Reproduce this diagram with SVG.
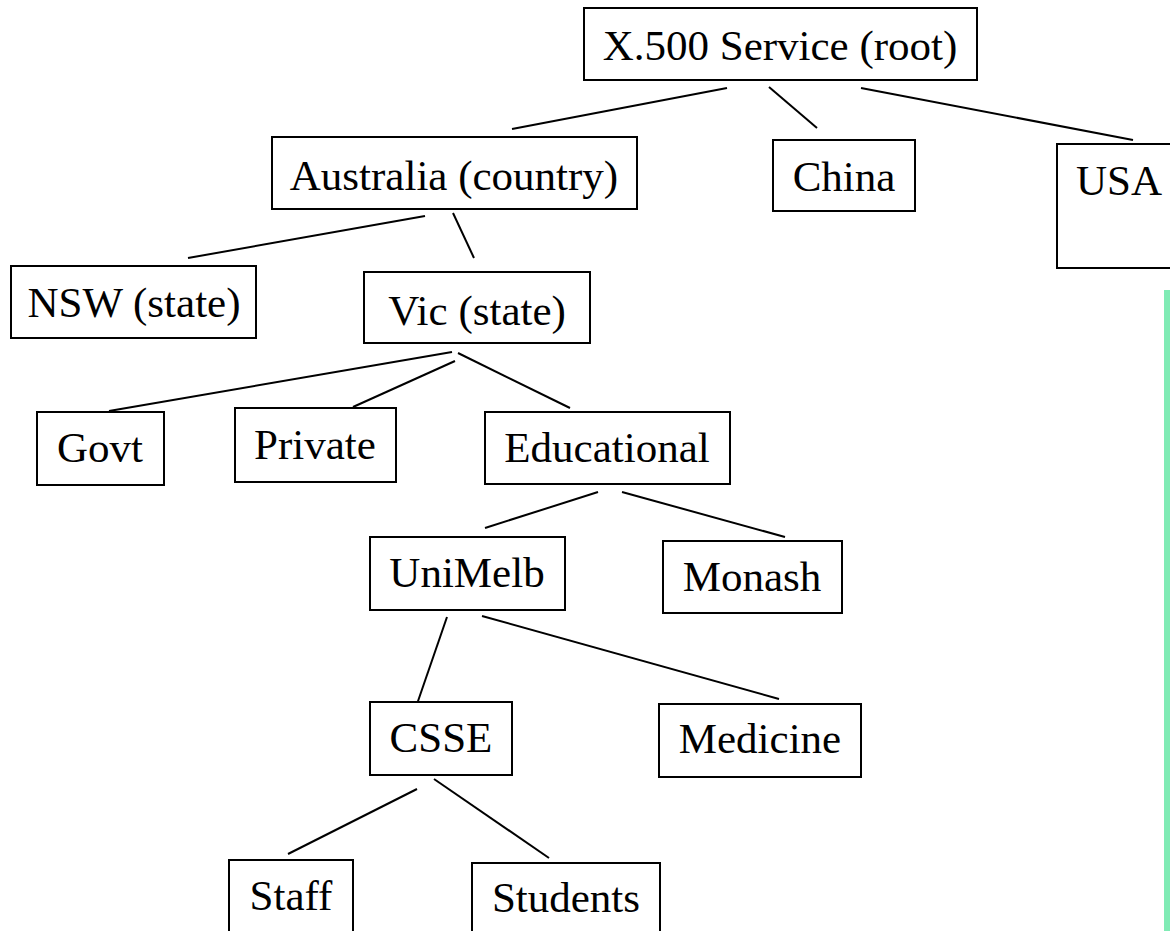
<svg xmlns="http://www.w3.org/2000/svg" width="1170" height="931" viewBox="0 0 1170 931">
<style>
.box{fill:#ffffff;stroke:#000000;stroke-width:2}
.lbl{font-family:"Liberation Serif","Times New Roman",serif;font-size:43px;fill:#000000;text-anchor:middle}
.conn line{stroke:#000000;stroke-width:2}
</style>
<rect x="0" y="0" width="1170" height="931" fill="#ffffff"/>
<rect x="1164" y="290" width="6" height="641" fill="#80EBB5"/>
<g class="conn">
<line x1="727" y1="88" x2="512" y2="129"/>
<line x1="769" y1="87" x2="817" y2="128"/>
<line x1="861" y1="88" x2="1133" y2="140"/>
<line x1="425" y1="216" x2="188" y2="258"/>
<line x1="453" y1="213" x2="474" y2="258"/>
<line x1="452" y1="352" x2="109" y2="411"/>
<line x1="455" y1="361" x2="353" y2="407"/>
<line x1="458" y1="353" x2="570" y2="408"/>
<line x1="598" y1="492" x2="485" y2="528"/>
<line x1="622" y1="492" x2="785" y2="537"/>
<line x1="447" y1="617" x2="417" y2="704"/>
<line x1="482" y1="616" x2="779" y2="699"/>
<line x1="417" y1="789" x2="288" y2="854"/>
<line x1="434" y1="779" x2="549" y2="858"/>
</g>
<g id="root"><rect class="box" x="584" y="8" width="393" height="72"/><text class="lbl" x="780" y="60">X.500 Service (root)</text></g>
<g id="australia"><rect class="box" x="272" y="137" width="365" height="72"/><text class="lbl" x="454" y="190">Australia (country)</text></g>
<g id="china"><rect class="box" x="773" y="140" width="142" height="71"/><text class="lbl" x="844" y="191">China</text></g>
<g id="usa"><rect class="box" x="1057" y="144" width="130" height="124"/><text class="lbl" x="1119" y="195">USA</text></g>
<g id="nsw"><rect class="box" x="11" y="266" width="245" height="72"/><text class="lbl" x="134" y="317">NSW (state)</text></g>
<g id="vic"><rect class="box" x="364" y="272" width="226" height="71"/><text class="lbl" x="477" y="325">Vic (state)</text></g>
<g id="govt"><rect class="box" x="37" y="412" width="127" height="73"/><text class="lbl" x="100" y="462">Govt</text></g>
<g id="private"><rect class="box" x="235" y="408" width="161" height="74"/><text class="lbl" x="315" y="459">Private</text></g>
<g id="educational"><rect class="box" x="485" y="412" width="245" height="72"/><text class="lbl" x="607" y="462">Educational</text></g>
<g id="unimelb"><rect class="box" x="370" y="537" width="195" height="73"/><text class="lbl" x="467" y="587">UniMelb</text></g>
<g id="monash"><rect class="box" x="663" y="541" width="179" height="72"/><text class="lbl" x="752" y="591">Monash</text></g>
<g id="csse"><rect class="box" x="370" y="702" width="142" height="73"/><text class="lbl" x="441" y="752">CSSE</text></g>
<g id="medicine"><rect class="box" x="659" y="704" width="202" height="73"/><text class="lbl" x="760" y="753">Medicine</text></g>
<g id="staff"><rect class="box" x="229" y="860" width="124" height="90"/><text class="lbl" x="291" y="910">Staff</text></g>
<g id="students"><rect class="box" x="472" y="863" width="188" height="90"/><text class="lbl" x="566" y="912">Students</text></g>
</svg>
